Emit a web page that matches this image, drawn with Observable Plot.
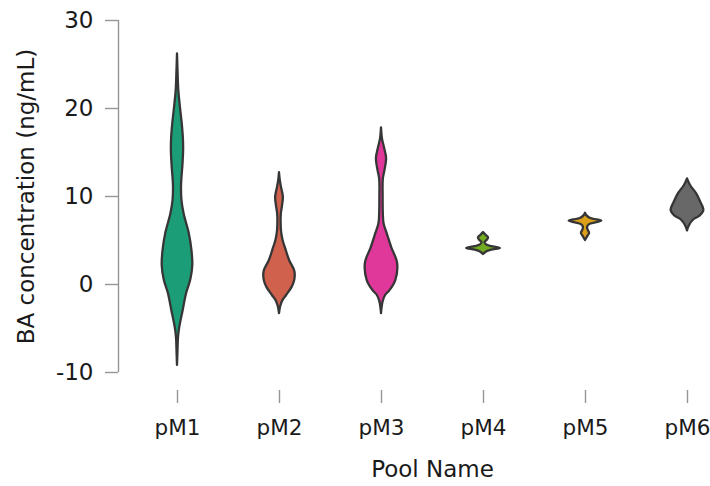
<!DOCTYPE html>
<html>
<head>
<meta charset="utf-8">
<script src="https://cdn.jsdelivr.net/npm/d3@7"></script>
<script src="https://cdn.jsdelivr.net/npm/@observablehq/plot@0.6"></script>
<style>
  html, body { margin: 0; padding: 0; background: #fff; }
  #chart { width: 710px; height: 486px; }
</style>
</head>
<body>
<div id="chart"></div>
<script>
// Categories and colours
const pools = ["pM1", "pM2", "pM3", "pM4", "pM5", "pM6"];
const poolColors = ["#1b9e77", "#d0624d", "#e0379a", "#72ab22", "#dca01a", "#686868"];
const yTicks = [-10, 0, 10, 20, 30];

// Violin profiles: concentration (ng/mL) and relative density (half width)
const pM1Y = [26.2, 24, 22, 20, 18.3, 16.5, 15.2, 13.5, 12, 11, 9.5, 8, 5.8, 4, 2.2, 0.5, -1, -3, -4.9, -6, -7.5, -9.2];
const pM1D = [0, 0.6, 1.3, 3, 4.6, 5.8, 6, 5.3, 4.3, 3.9, 4.4, 6.5, 11.5, 14, 15, 13, 9, 5.5, 2.2, 1, 0.5, 0];

const pM2Y = [12.7, 11.8, 11, 9.9, 8.8, 8, 7, 6, 5, 3.9, 2.7, 1.5, 0.5, -0.3, -1.25, -1.8, -2.5, -3.3];
const pM2D = [0, 0.8, 2, 3.8, 2.8, 1.8, 1.6, 2, 3.5, 6.5, 10, 15, 15, 12.5, 7, 3.5, 1.2, 0];

const pM3Y = [17.8, 16.5, 15.5, 14.3, 13, 12, 10, 8, 6.9, 5.8, 4.2, 2.4, 0.45, -0.7, -1.25, -2, -3.3];
const pM3D = [0, 1, 3, 5, 3.5, 1.8, 1.6, 1.8, 2.5, 5.5, 10, 15.8, 14, 8.3, 4, 1.5, 0];

const pM4Y = [5.9, 5.6, 5.3, 5.0, 4.75, 4.5, 4.3, 4.1, 3.9, 3.7, 3.4];
const pM4D = [0, 2.5, 5, 3.5, 1.5, 3, 8, 16.5, 8, 3, 0];

const pM5Y = [8.1, 7.8, 7.5, 7.2, 7.0, 6.8, 6.5, 6.2, 5.8, 5.5, 5.0];
const pM5D = [0, 1.5, 5, 16, 10, 4, 2, 2.5, 4, 2.5, 0];

const pM6Y = [12.0, 11.25, 10.3, 9.35, 8.4, 7.8, 7.3, 6.7, 6.1];
const pM6D = [0, 3, 9, 13, 16, 12.5, 5.8, 2, 0];

const profiles = [[pM1Y, pM1D], [pM2Y, pM2D], [pM3Y, pM3D], [pM4Y, pM4D], [pM5Y, pM5D], [pM6Y, pM6D]];

// Build the table the library needs
const densityScale = 1 / 100; // relative density -> fraction of a category step
const rows = [];
profiles.forEach(([ys, ds], i) => {
  ys.forEach((y, j) => rows.push({pool: pools[i], pos: i + 1, y, d: ds[j]}));
});

// Layout
const W = 710, H = 486;
const mLeft = 118, mRight = 0, mTop = 20, mBottom = 114;
const firstCenter = 177, step = 102;
const xDomain = [1 - (firstCenter - mLeft) / step, 1 + (W - mRight - firstCenter) / step];
const xMid = d3.mean(pools, (_, i) => i + 1);

const chart = Plot.plot({
  width: W,
  height: H,
  marginLeft: mLeft,
  marginRight: mRight,
  marginTop: mTop,
  marginBottom: mBottom,
  style: {fontFamily: "'DejaVu Sans', sans-serif", fontSize: "22px", color: "#1a1a1a", background: "#fff"},
  x: {domain: xDomain},
  y: {domain: [-10, 30]},
  color: {domain: pools, range: poolColors},
  marks: [
    Plot.ruleX([xDomain[0]], {y1: yTicks[0], y2: yTicks[yTicks.length - 1], stroke: "#959595", strokeWidth: 1.4}),
    Plot.axisY(yTicks, {
      tickSize: 13, tickPadding: 12, stroke: "#959595", strokeWidth: 1.4,
      tickFormat: d => String(d), fontSize: 23,
      label: "BA concentration (ng/mL)", labelAnchor: "center", labelArrow: "none", labelOffset: 101
    }),
    Plot.axisX(pools.map((_, i) => i + 1), {
      tickSize: 13, tickPadding: 16, dy: 18, stroke: "#959595", strokeWidth: 1.4,
      tickFormat: v => pools[v - 1], fontSize: 21.5, label: null
    }),
    Plot.areaX(rows, {
      y: "y",
      x1: d => d.pos - d.d * densityScale,
      x2: d => d.pos + d.d * densityScale,
      z: "pool",
      fill: "pool",
      stroke: "#363636",
      strokeWidth: 2.3,
      strokeLinejoin: "round",
      curve: "catmull-rom"
    }),
    Plot.text(["Pool Name"], {x: () => xMid, frameAnchor: "bottom", dy: 104, fontSize: 23, fill: "#1a1a1a", text: d => d})
  ]
});
document.getElementById("chart").appendChild(chart);
</script>
</body>
</html>
